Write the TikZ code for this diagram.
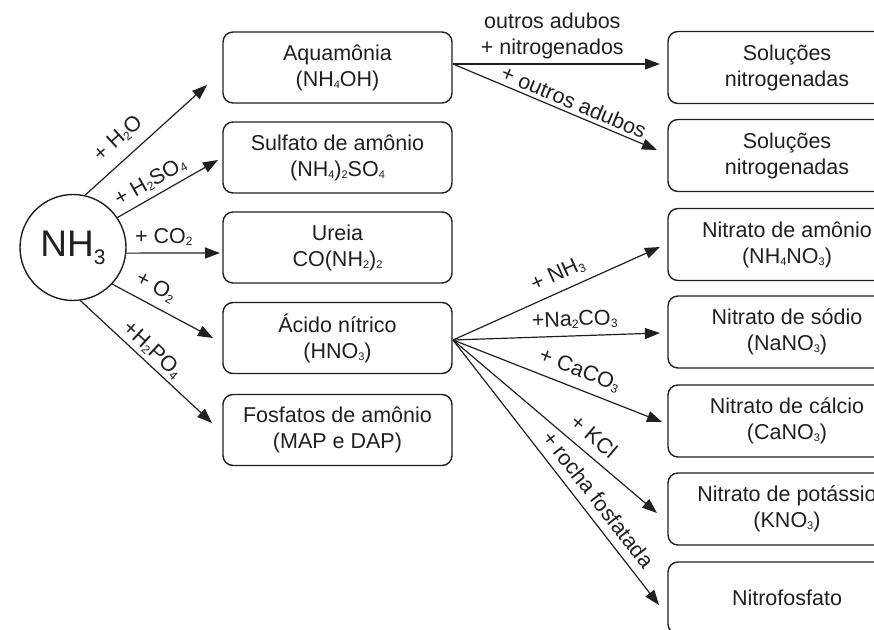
\documentclass[tikz,border=0pt]{standalone}
\usepackage{fontspec}
\setmainfont{Liberation Sans}
\usetikzlibrary{arrows.meta}
\definecolor{ink}{RGB}{35,31,32}
\newcommand\sbs[1]{\raisebox{-2pt}{\fontsize{11}{11}\selectfont #1}}
\newcommand\lsb[1]{\raisebox{-2.5pt}{\fontsize{12}{12}\selectfont #1}}
\begin{document}
\begin{tikzpicture}[x=1pt,y=-1pt,
  every node/.style={text=ink},
  box/.style={draw=ink, line width=1.4pt, rounded corners=10pt, inner sep=0pt, align=center, font=\fontsize{21.5}{26}\selectfont},
  lbox/.style={box, minimum width=229pt, minimum height=71pt},
  rbox/.style={box, minimum width=238pt, minimum height=72pt},
  arr/.style={draw=ink, line width=1.2pt, -{Triangle[length=15pt,width=11pt]}},
  lab/.style={font=\fontsize{21.5}{26}\selectfont, inner sep=0pt, sloped, align=center},
]
\useasboundingbox (0,0) rectangle (874,629);
\clip (0,0) rectangle (874,629);
\fill[white] (0,0) rectangle (874,629);

% source
\node[circle, draw=ink, line width=1.4pt, minimum size=106pt, inner sep=0pt,
      font=\fontsize{37}{37}\selectfont] (nh) at (73,247.5) {NH\raisebox{-8pt}{\fontsize{21}{21}\selectfont 3}};

% left column
\node[lbox] (aq) at (337.5,67.5) {Aquamônia\\(NH\sbs{4}OH)};
\node[lbox] (su) at (337.5,157.5) {Sulfato de amônio\\(NH\sbs{4})\sbs{2}SO\sbs{4}};
\node[lbox] (ur) at (337.5,247.5) {Ureia\\CO(NH\sbs{2})\sbs{2}};
\node[lbox] (ac) at (337.5,338) {Ácido nítrico\\(HNO\sbs{3})};
\node[lbox] (fo) at (337.5,430) {Fosfatos de amônio\\(MAP e DAP)};

% right column
\node[rbox] (s1) at (787,67.5) {Soluções\\nitrogenadas};
\node[rbox] (s2) at (787,155.5) {Soluções\\nitrogenadas};
\node[rbox] (na) at (787,244.5) {Nitrato de amônio\\(NH\sbs{4}NO\sbs{3})};
\node[rbox] (ns) at (787,332) {Nitrato de sódio\\(NaNO\sbs{3})};
\node[rbox] (nc) at (787,421) {Nitrato de cálcio\\(CaNO\sbs{3})};
\node[rbox] (nk) at (787,509) {Nitrato de potássio\\(KNO\sbs{3})};
\node[rbox] (nf) at (787,598) {Nitrofosfato};

% arrow ends
\coordinate (t1) at (207,85);
\coordinate (t2) at (218,160);
\coordinate (t3) at (220,253);
\coordinate (t4) at (213,338);
\coordinate (t5) at (212,423);
\coordinate (aqo) at (453,64);
\coordinate (t6) at (660,64);
\coordinate (t7) at (657,150);
\coordinate (aco) at (453,340);
\coordinate (t8) at (660,247);
\coordinate (t9) at (660,333);
\coordinate (t10) at (662,422);
\coordinate (t11) at (657,513);
\coordinate (t12) at (659,605);

% arrows from NH3
\draw[arr] (nh.77) -- node[lab, pos=.38, yshift=20pt] {+ H\lsb{2}O} (t1);
\draw[arr] (nh.34) -- node[lab, pos=.40, yshift=15pt] {+ H\lsb{2}SO\lsb{4}} (t2);
\draw[arr] (nh.-6) -- node[lab, pos=.40, yshift=16pt] {+ CO\lsb{2}} (t3);
\draw[arr] (nh.-43) -- node[lab, pos=.35, yshift=18pt] {+ O\lsb{2}} (t4);
\draw[arr] (nh.-82) -- node[lab, pos=.48, yshift=13pt] {+H\lsb{2}PO\lsb{4}} (t5);

% arrows from Aquamonia
\draw[arr] (aqo) -- node[lab, pos=.48, above=4pt] {outros adubos\\+ nitrogenados} (t6);
\draw[arr] (aqo) -- node[lab, pos=.57, yshift=12pt] {+ outros adubos} (t7);

% arrows from nitric acid
\draw[arr] (aco) -- node[lab, pos=.54, yshift=17pt] {+ NH\lsb{3}} (t8);
\draw[arr] (aco) -- node[lab, pos=.59, yshift=16pt] {+Na\lsb{2}CO\lsb{3}} (t9);
\draw[arr] (aco) -- node[lab, pos=.575, yshift=18pt] {+ CaCO\lsb{3}} (t10);
\draw[arr] (aco) -- node[lab, pos=.635, yshift=18pt] {+ KCl} (t11);
\draw[arr] (aco) -- node[lab, pos=.64, yshift=17pt] {+ rocha fosfatada} (t12);
\end{tikzpicture}
\end{document}
